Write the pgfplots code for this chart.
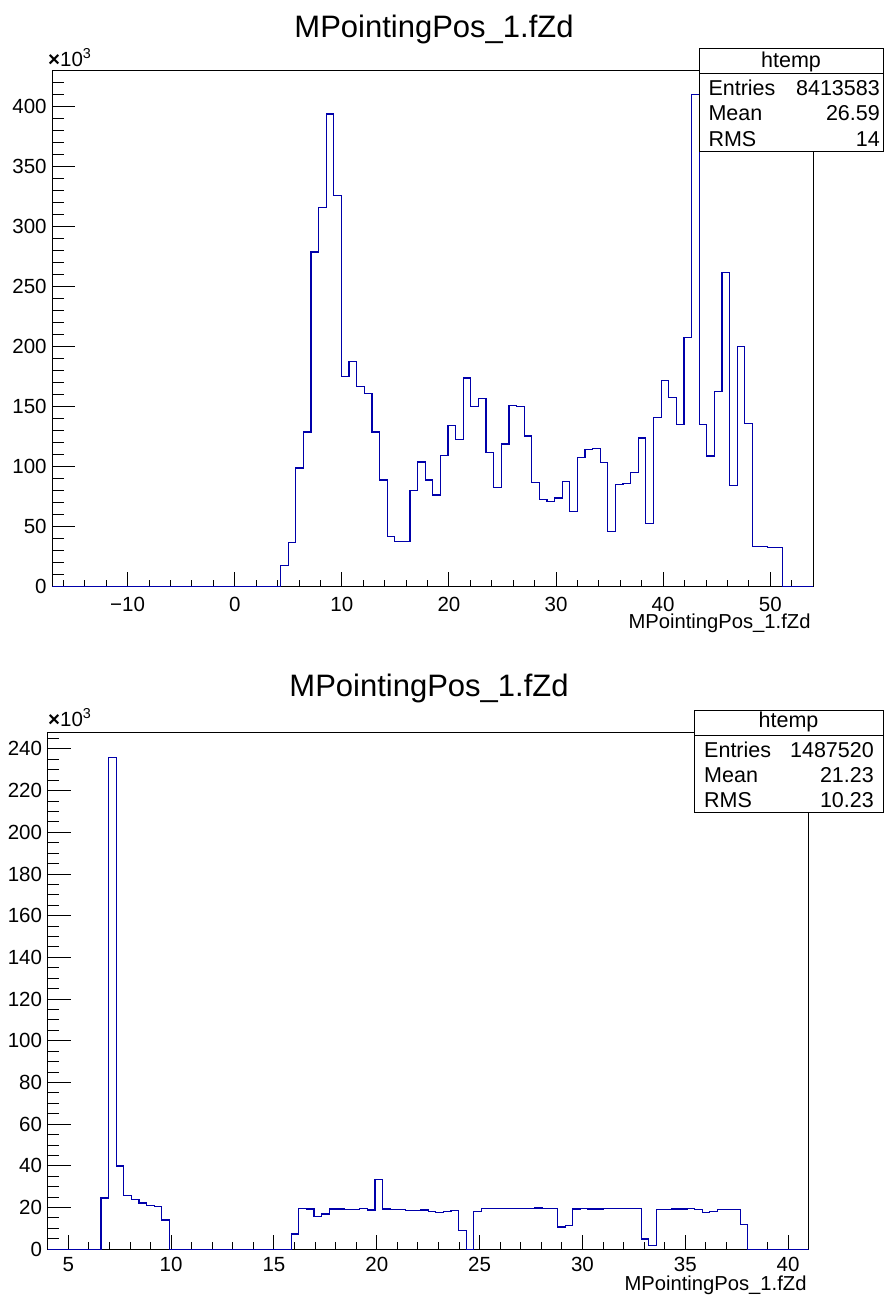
\documentclass[border=0pt]{standalone}
\usepackage{fontspec}
\setmainfont{Liberation Sans}
\usepackage{pgfplots}
\usepackage{pgfplotstable}
\pgfplotsset{compat=1.18}

\definecolor{rootblue}{RGB}{0,0,170}
\newcommand\tl{\fontsize{20.5}{24}\selectfont}
\newcommand\al{\fontsize{20.2}{24}\selectfont}
\newcommand\st{\fontsize{21.5}{25}\selectfont}
\newcommand\ttl{\fontsize{31}{35}\selectfont}

% top histogram, counts in thousands, left bin edges (bin width 0.7105)
\pgfplotstableread{
x y
-17.03 0
4.285 18
4.9955 37
5.706 99
6.4165 129
7.127 279
7.8375 316
8.548 394
9.2585 326
9.969 175
10.6795 188
11.39 167
12.1005 161
12.811 129
13.5215 89
14.232 42
14.9425 38
15.653 38
16.3635 80
17.074 104
17.7845 89
18.495 76.5
19.2055 109.5
19.916 134.5
20.6265 123
21.337 174
22.0475 150
22.758 157
23.4685 112
24.179 83
24.8895 119
25.6 151
26.3105 150
27.021 125.6
27.7315 87
28.442 73
29.1525 71
29.863 74
30.5735 87.5
31.284 62.5
31.9945 107.7
32.705 114.6
33.4155 115
34.126 103.6
34.8365 46
35.547 85
36.2575 86
36.968 95
37.6785 124
38.389 52.7
39.0995 141
39.81 172
40.5205 158
41.231 135
41.9415 208
42.652 410
43.3625 135
44.073 109
44.7835 163
45.494 262
46.2045 84.5
46.915 200
47.6255 136
48.336 33.6
49.0465 33.6
49.757 32.8
50.4675 32.8
51.178 0
54.02 0
}\topdata

% bottom histogram, counts in thousands, left bin edges (bin width 0.37)
\pgfplotstableread{
x y
4 0
6.59 24.6
6.96 236
7.33 39.9
7.70 25.9
8.07 23.9
8.44 22.2
8.81 21.1
9.18 20.6
9.55 14
9.92 0
15.84 7.3
16.21 19.5
16.58 19.3
16.95 15.8
17.32 16.9
17.69 19.3
18.06 19.3
18.43 19.1
18.80 19.1
19.17 19.5
19.54 18.8
19.91 33.5
20.28 19.3
20.65 19.1
21.02 18.9
21.39 18.6
21.76 18.6
22.13 18.8
22.50 18.0
22.87 17.7
23.24 18.0
23.61 18.4
23.98 9.1
24.35 0
24.72 18.0
25.09 19.5
25.46 19.4
25.83 19.6
26.20 19.7
26.57 19.6
26.94 19.5
27.31 19.7
27.68 19.8
28.05 19.5
28.42 19.6
28.79 10.7
29.16 11.2
29.53 19.3
29.90 19.4
30.27 19.3
30.64 19.3
31.01 19.4
31.38 19.4
31.75 19.5
32.12 19.6
32.49 19.6
32.86 4.9
33.23 1.8
33.60 19.2
33.97 19.2
34.34 19.3
34.71 19.3
35.08 19.4
35.45 19.0
35.82 17.7
36.19 18.0
36.56 18.9
36.93 18.9
37.30 19.0
37.67 11.7
38.04 0
41 0
}\botdata

\pgfplotsset{
  rootaxis/.style={
    scale only axis, width=761pt, anchor=south west,
    axis line style={line width=1.2pt},
    tick style={black, line width=0.9pt},
    tick align=inside, xtick pos=bottom, ytick pos=left,
    /pgf/number format/assume math mode=true,
    tick label style={font=\tl},
    xticklabel style={anchor=north, inner sep=0pt},
    yticklabel style={anchor=east, inner sep=0pt, xshift=-5.5pt},
  },
  xpart/.style={ytick=\empty, major tick length=14.5pt, minor tick length=7.2pt},
  ypart/.style={xtick=\empty, major tick length=23pt, minor tick length=11.5pt},
  hist/.style={const plot, rootblue, line width=1.2pt},
}

\begin{document}
\begin{tikzpicture}[x=1pt,y=1pt]
\useasboundingbox (0,0) rectangle (884,-1295);

% ---- top pad ----
\begin{axis}[rootaxis, xpart, at={(52.3pt,-586.8pt)}, height=516.1pt,
  xmin=-17.03, xmax=54.02, ymin=0, ymax=430,
  xticklabel style={yshift=-9.8pt},
  xtick={-10,0,10,20,30,40,50}, xticklabels={−10,0,10,20,30,40,50},
  minor xtick={-16,-14,...,54}]
\end{axis}
\begin{axis}[rootaxis, ypart, at={(52.3pt,-586.8pt)}, height=516.1pt,
  xmin=-17.03, xmax=54.02, ymin=0, ymax=430,
  ytick={0,50,...,400}, minor ytick={0,10,...,430}]
  \addplot[hist] table {\topdata};
\end{axis}
\node[font=\ttl, anchor=base, inner sep=0pt] at (434,-37.3) {MPointingPos\_1.fZd};
\node[font=\tl, anchor=base west, inner sep=0pt] at (48,-66.5) {\textbf{×}10\textsuperscript{3}};
\node[font=\al, anchor=base east, inner sep=0pt] at (810.7,-628.3) {MPointingPos\_1.fZd};
\draw[line width=0.8pt, fill=white] (699.3,-48.3) rectangle (883,-151);
\draw[line width=0.8pt] (699.3,-73.6) -- (883,-73.6);
\node[font=\st, inner sep=0pt] at (791,-61.7) {htemp};
\node[font=\st, anchor=base west, inner sep=0pt] at (708.3,-95.2) {Entries};
\node[font=\st, anchor=base east, inner sep=0pt] at (880,-95.2) {8413583};
\node[font=\st, anchor=base west, inner sep=0pt] at (708.3,-120.7) {Mean};
\node[font=\st, anchor=base east, inner sep=0pt] at (880,-120.7) {26.59};
\node[font=\st, anchor=base west, inner sep=0pt] at (708.3,-146.3) {RMS};
\node[font=\st, anchor=base east, inner sep=0pt] at (880,-146.3) {14};

% ---- bottom pad ----
\begin{axis}[rootaxis, xpart, at={(47.7pt,-1249.2pt)}, height=516.6pt,
  xmin=4, xmax=41, ymin=0, ymax=247.8,
  xticklabel style={yshift=-7.5pt},
  xtick={5,10,...,40}, minor xtick={5,6,...,41}]
\end{axis}
\begin{axis}[rootaxis, ypart, at={(47.7pt,-1249.2pt)}, height=516.6pt,
  xmin=4, xmax=41, ymin=0, ymax=247.8,
  ytick={0,20,...,240}, minor ytick={0,5,...,245}]
  \addplot[hist] table {\botdata};
\end{axis}
\node[font=\ttl, anchor=base, inner sep=0pt] at (429,-696) {MPointingPos\_1.fZd};
\node[font=\tl, anchor=base west, inner sep=0pt] at (48,-726.5) {\textbf{×}10\textsuperscript{3}};
\node[font=\al, anchor=base east, inner sep=0pt] at (806.7,-1290.5) {MPointingPos\_1.fZd};
\draw[line width=0.8pt, fill=white] (694,-710) rectangle (883,-812.7);
\draw[line width=0.8pt] (694,-735.3) -- (883,-735.3);
\node[font=\st, inner sep=0pt] at (788.5,-721.7) {htemp};
\node[font=\st, anchor=base west, inner sep=0pt] at (704,-757.4) {Entries};
\node[font=\st, anchor=base east, inner sep=0pt] at (874,-757.4) {1487520};
\node[font=\st, anchor=base west, inner sep=0pt] at (704,-782.5) {Mean};
\node[font=\st, anchor=base east, inner sep=0pt] at (874,-782.5) {21.23};
\node[font=\st, anchor=base west, inner sep=0pt] at (704,-807.5) {RMS};
\node[font=\st, anchor=base east, inner sep=0pt] at (874,-807.5) {10.23};
\end{tikzpicture}
\end{document}
